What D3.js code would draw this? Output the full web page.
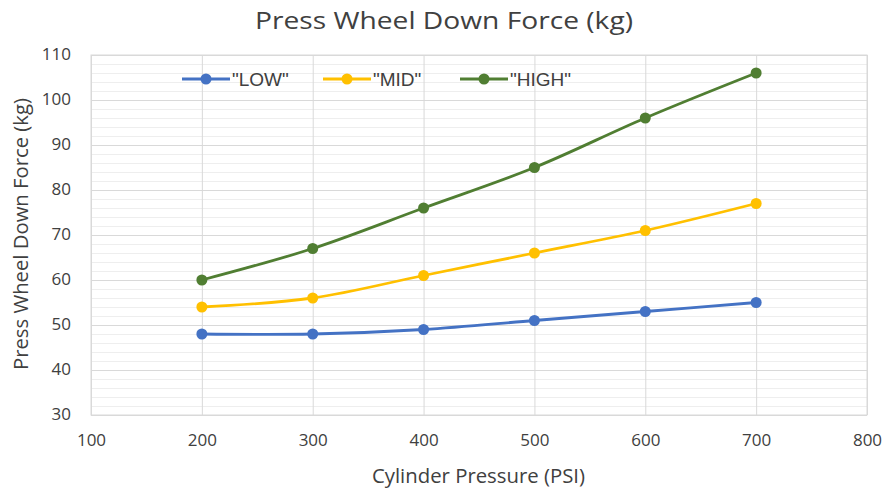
<!DOCTYPE html>
<html><head><meta charset="utf-8">
<script src="https://cdn.jsdelivr.net/npm/d3@7"></script>
<style>body{margin:0;background:#fff}svg{display:block}text{font-family:"Open Sans",sans-serif;fill:#404040}</style>
</head><body><svg id="c" width="885" height="490"></svg>
<script>
const pressures = [200, 300, 400, 500, 600, 700];
const low = [48, 48, 49, 51, 53, 55];
const mid = [54, 56, 61, 66, 71, 77];
const high = [60, 67, 76, 85, 96, 106];
const seriesNames = ['"LOW"', '"MID"', '"HIGH"'];
const xTicks = [100, 200, 300, 400, 500, 600, 700, 800];
const yTicks = [30, 40, 50, 60, 70, 80, 90, 100, 110];

const colors = ["#4472C4", "#FFC000", "#507E32"];
const FONT = "'Open Sans',sans-serif";
const svg = d3.select("#c");
const L = 91, R = 867, T = 55, B = 415;
const x = d3.scaleLinear().domain([100, 800]).range([L, R]);
const y = d3.scaleLinear().domain([30, 110]).range([B, T]);

// minor grid
const minor = d3.range(30, 110.1, 2).filter(v => v % 10 !== 0);
svg.append("g").call(d3.axisLeft(y).tickValues(minor).tickSize(-(R - L)).tickFormat(""))
  .attr("transform", `translate(${L},0)`)
  .call(g => g.select(".domain").remove())
  .call(g => g.selectAll("line").attr("stroke", "#eeeeee"));
// major grid
svg.append("g").call(d3.axisLeft(y).tickValues(yTicks).tickSize(-(R - L)).tickFormat(""))
  .attr("transform", `translate(${L},0)`)
  .call(g => g.select(".domain").remove())
  .call(g => g.selectAll("line").attr("stroke", "#d9d9d9"));
svg.append("g").call(d3.axisBottom(x).tickValues(xTicks).tickSize(-(B - T)).tickFormat(""))
  .attr("transform", `translate(0,${B})`)
  .call(g => g.select(".domain").remove())
  .call(g => g.selectAll("line").attr("stroke", "#d9d9d9"));
svg.append("rect").attr("x", L).attr("y", T).attr("width", R - L).attr("height", B - T)
  .attr("fill", "none").attr("stroke", "#d9d9d9");

// tick labels
svg.append("g").attr("transform", `translate(${L},0)`)
  .call(d3.axisLeft(y).tickValues(yTicks).tickSize(0).tickPadding(20))
  .call(g => g.select(".domain").remove())
  .call(g => g.selectAll("text").attr("font-size", 17).attr("dy", "0.25em").style("font-family", FONT).attr("fill", "#404040"));
svg.append("g").attr("transform", `translate(0,${B})`)
  .call(d3.axisBottom(x).tickValues(xTicks).tickSize(0).tickPadding(19))
  .call(g => g.select(".domain").remove())
  .call(g => g.selectAll("text").attr("font-size", 17).style("font-family", FONT).attr("fill", "#404040"));

// titles
svg.append("text").attr("x", 444).attr("y", 29).attr("text-anchor", "middle").attr("font-size", 24)
  .attr("textLength", 378).attr("lengthAdjust", "spacingAndGlyphs").text("Press Wheel Down Force (kg)");
svg.append("text").attr("x", 478.5).attr("y", 483).attr("text-anchor", "middle").attr("font-size", 20)
  .attr("textLength", 213).attr("lengthAdjust", "spacingAndGlyphs").text("Cylinder Pressure (PSI)");
svg.append("text").attr("transform", "translate(28,234) rotate(-90)").attr("text-anchor", "middle").attr("font-size", 20)
  .attr("textLength", 272).attr("lengthAdjust", "spacingAndGlyphs").text("Press Wheel Down Force (kg)");

// series
const data = [low, mid, high];
const line = d3.line().x((d, i) => x(pressures[i])).y(d => y(d)).curve(d3.curveCatmullRom.alpha(0.5));
data.forEach((s, k) => {
  svg.append("path").datum(s).attr("d", line).attr("fill", "none").attr("stroke", colors[k]).attr("stroke-width", 2.8);
  svg.append("g").selectAll("circle").data(s).join("circle")
    .attr("cx", (d, i) => x(pressures[i])).attr("cy", d => y(d)).attr("r", 5.5).attr("fill", colors[k]);
});

// legend
const legX = [182, 323, 460];
seriesNames.forEach((n, k) => {
  const g = svg.append("g").attr("transform", `translate(${legX[k]},79)`);
  g.append("line").attr("x1", 0).attr("x2", 48).attr("stroke", colors[k]).attr("stroke-width", 2.8);
  g.append("circle").attr("cx", 24).attr("r", 5.5).attr("fill", colors[k]);
  g.append("text").attr("x", 50).attr("y", 7).attr("font-size", 19)
    .style("font-family", "'Liberation Sans',Arial,sans-serif").text(n);
});
</script></body></html>
